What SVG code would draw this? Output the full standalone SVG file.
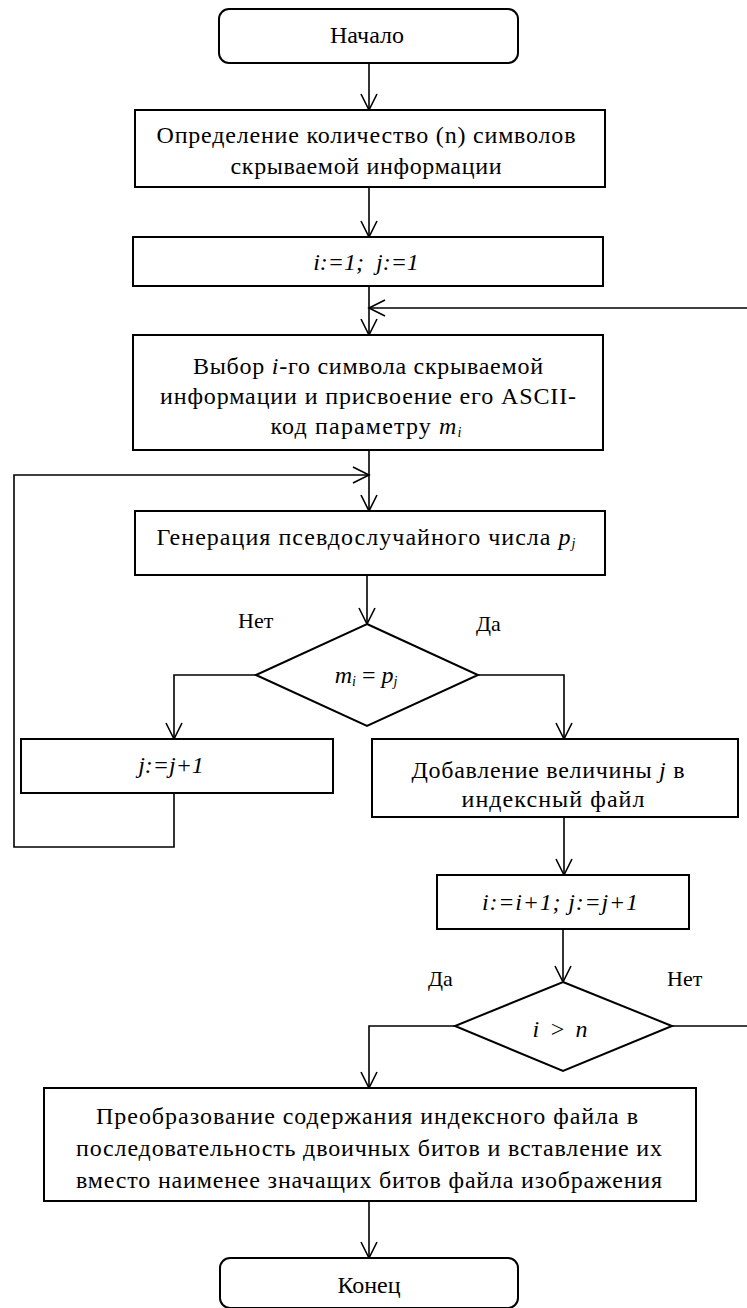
<svg xmlns="http://www.w3.org/2000/svg" width="747" height="1308" viewBox="0 0 747 1308">
<style>
.box{fill:#fff;stroke:#000;stroke-width:2}
.conn{fill:none;stroke:#000;stroke-width:1.6}
.t{font-family:"Liberation Serif","Times New Roman",serif;font-size:24px;fill:#000;text-anchor:middle}
.i{font-style:italic}
.lbl{font-family:"Liberation Serif","Times New Roman",serif;font-size:22px;fill:#000}
</style>
<defs>
<marker id="arr" markerUnits="userSpaceOnUse" markerWidth="20" markerHeight="20" viewBox="-18 -10 20 20" refX="0" refY="0" orient="auto">
<path d="M-16,-8 L0,0 L-16,8" fill="none" stroke="#000" stroke-width="1.6"/>
</marker>
</defs>
<rect width="747" height="1308" fill="#fff"/>
<g id="connectors">
<path class="conn" d="M369,63 V110" marker-end="url(#arr)"/>
<path class="conn" d="M369,187 V237" marker-end="url(#arr)"/>
<path class="conn" d="M747,308 H369" marker-end="url(#arr)"/>
<path class="conn" d="M369,286 V335" marker-end="url(#arr)"/>
<path class="conn" d="M174,793 V847 H14 V475 H369" marker-end="url(#arr)"/>
<path class="conn" d="M369,450 V511" marker-end="url(#arr)"/>
<path class="conn" d="M367,575 V624" marker-end="url(#arr)"/>
<path class="conn" d="M257,675 H174 V739" marker-end="url(#arr)"/>
<path class="conn" d="M478,675 H564 V739" marker-end="url(#arr)"/>
<path class="conn" d="M564,817 V875" marker-end="url(#arr)"/>
<path class="conn" d="M563,929 V982" marker-end="url(#arr)"/>
<path class="conn" d="M672,1026 H747"/>
<path class="conn" d="M455,1026 H369 V1088" marker-end="url(#arr)"/>
<path class="conn" d="M369,1201 V1258" marker-end="url(#arr)"/>
<text class="lbl" x="238" y="628">Нет</text>
<text class="lbl" x="476" y="631">Да</text>
<text class="lbl" x="428" y="986">Да</text>
<text class="lbl" x="667" y="986">Нет</text>
</g>
<g id="start">
<rect class="box" x="219" y="9" width="299" height="54" rx="10"/>
<text class="t" x="367" y="43">Начало</text>
</g>
<g id="count">
<rect class="box" x="135" y="110" width="470" height="77"/>
<text class="t" x="366" y="143" textLength="419" lengthAdjust="spacing">Определение  количество  (n) символов</text>
<text class="t" x="366" y="174" textLength="271" lengthAdjust="spacing">скрываемой  информации</text>
</g>
<g id="init">
<rect class="box" x="133" y="237" width="470" height="49"/>
<text class="t i" x="366" y="270">i:=1;&#160; j:=1</text>
</g>
<g id="select">
<rect class="box" x="133" y="335" width="470" height="115"/>
<text class="t" x="368" y="374" textLength="350" lengthAdjust="spacing">Выбор <tspan class="i">i</tspan>-го символа скрываемой</text>
<text class="t" x="368" y="404" textLength="416" lengthAdjust="spacing">информации  и присвоение  его ASCII-</text>
<text class="t" x="366" y="434" textLength="191" lengthAdjust="spacing">код параметру  <tspan class="i">m</tspan><tspan class="i" font-size="14" dy="3">i</tspan></text>
</g>
<g id="generate">
<rect class="box" x="135" y="511" width="470" height="64"/>
<text class="t" x="366" y="545" textLength="419" lengthAdjust="spacing">Генерация  псевдослучайного  числа <tspan class="i">p</tspan><tspan class="i" font-size="14" dy="3">j</tspan></text>
</g>
<g id="cmp1">
<polygon class="box" points="367,624 478,675 367,726 256,675"/>
<text class="t" x="366" y="683"><tspan class="i">m</tspan><tspan class="i" font-size="14" dy="3">i</tspan><tspan dy="-3"> = </tspan><tspan class="i">p</tspan><tspan class="i" font-size="14" dy="3">j</tspan></text>
</g>
<g id="incj">
<rect class="box" x="21" y="739" width="312" height="54"/>
<text class="t i" x="171" y="773">j:=j+1</text>
</g>
<g id="add">
<rect class="box" x="372" y="739" width="366" height="78"/>
<text class="t" x="548" y="778" textLength="273" lengthAdjust="spacing">Добавление  величины <tspan class="i">j</tspan> в</text>
<text class="t" x="553" y="807" textLength="183" lengthAdjust="spacing">индексный  файл</text>
</g>
<g id="incij">
<rect class="box" x="437" y="875" width="252" height="54"/>
<text class="t i" x="560" y="910" textLength="156" lengthAdjust="spacing">i:=i+1; j:=j+1</text>
</g>
<g id="cmp2">
<polygon class="box" points="563,982 672,1026 563,1071 455,1026"/>
<text class="t i" x="560" y="1037" textLength="55" lengthAdjust="spacing">i &gt; n</text>
</g>
<g id="convert">
<rect class="box" x="44" y="1088" width="652" height="113"/>
<text class="t" x="367" y="1124" textLength="542" lengthAdjust="spacing">Преобразование  содержания  индексного  файла в</text>
<text class="t" x="369" y="1156" textLength="586" lengthAdjust="spacing">последовательность  двоичных битов и вставление  их</text>
<text class="t" x="369" y="1188" textLength="586" lengthAdjust="spacing">вместо  наименее  значащих  битов  файла изображения</text>
</g>
<g id="end">
<rect class="box" x="220" y="1258" width="298" height="50" rx="10"/>
<text class="t" x="369" y="1293">Конец</text>
</g>
</svg>
